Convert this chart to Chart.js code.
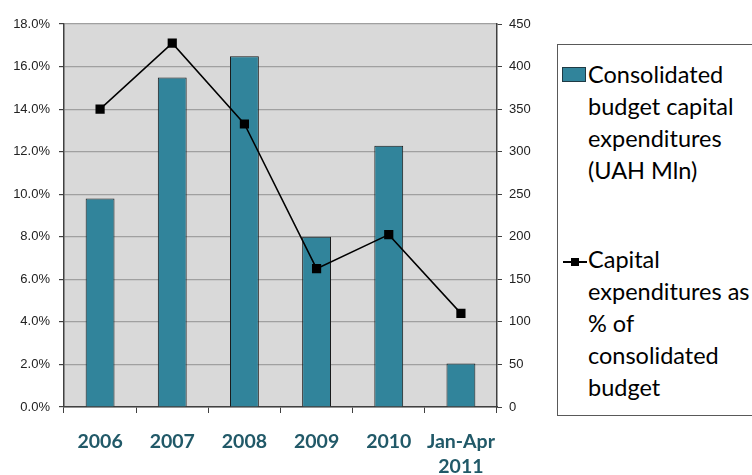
<!DOCTYPE html>
<html lang="en">
<head>
<meta charset="UTF-8" />
<title>Capital expenditures</title>
<style>
  html, body {
    margin: 0;
    padding: 0;
    background: #ffffff;
    overflow: hidden;
  }
  #wrap {
    position: relative;
    width: 752px;
    height: 475px;
    overflow: hidden;
  }
  #chart {
    position: absolute;
    left: 0;
    top: 0;
  }
  #legend {
    position: absolute;
    left: 557px;
    top: 44px;
    width: 240px;
    height: 370px;
    border: 1px solid #595959;
    background: #ffffff;
    font-family: Lato, "Open Sans", sans-serif;
    font-size: 23.5px;
    color: #000;
  }
  .entry {
    position: absolute;
    left: 30px;
    line-height: 32px;
    white-space: nowrap;
  }
  .swatch {
    position: absolute;
    left: 4px;
    width: 22px;
    height: 13px;
    background: #31849b;
    border: 1px solid #1f3a44;
  }
  .line-key {
    position: absolute;
    left: 5px;
    width: 24px;
    height: 2px;
    background: #000;
  }
  .line-key::after {
    content: "";
    position: absolute;
    left: 8px;
    top: -3px;
    width: 8px;
    height: 8px;
    background: #000;
  }
</style>
</head>
<body>
<div id="wrap">
  <canvas id="chart" width="752" height="475"></canvas>
  <div id="legend">
    <div class="swatch" style="top:22px"></div>
    <div class="entry" style="top:13px">Consolidated<br>budget capital<br>expenditures<br>(UAH Mln)</div>
    <div class="line-key" style="top:216px"></div>
    <div class="entry" style="top:198px">Capital<br>expenditures as<br>% of<br>consolidated<br>budget</div>
  </div>
</div>

<script src="https://cdn.jsdelivr.net/npm/chart.js"></script>
<script>
  // Periods, spending in UAH mln (bars) and share of the budget in % (line)
  const categories = ['2006', '2007', '2008', '2009', '2010', ['Jan-Apr', '2011']];
  const capexMln = [245, 387, 412, 200, 307, 51];
  const capexShare = [14.0, 17.1, 13.3, 6.5, 8.1, 4.4];

  const pctTicks = [0, 2, 4, 6, 8, 10, 12, 14, 16, 18];
  const mlnTicks = [0, 50, 100, 150, 200, 250, 300, 350, 400, 450];

  const axisDark = '#404040';
  const tickFont = { family: '"Liberation Sans", Arial, sans-serif', size: 13 };

  // grey fill behind the plot
  const plotBackground = {
    id: 'plotBackground',
    beforeDraw(chart) {
      const { ctx, chartArea: a } = chart;
      ctx.save();
      ctx.fillStyle = '#d9d9d9';
      ctx.fillRect(a.left, a.top, a.right - a.left, a.bottom - a.top);
      ctx.restore();
    }
  };

  new Chart(document.getElementById('chart'), {
    data: {
      labels: categories,
      datasets: [
        {
          type: 'line',
          label: 'Capital expenditures as % of consolidated budget',
          data: capexShare,
          yAxisID: 'y',
          borderColor: '#000',
          borderWidth: 1.5,
          pointStyle: 'rect',
          pointRadius: 6.5,
          pointBackgroundColor: '#000',
          pointBorderColor: '#000',
          pointBorderWidth: 0,
          tension: 0,
          order: 0
        },
        {
          type: 'bar',
          label: 'Consolidated budget capital expenditures (UAH Mln)',
          data: capexMln,
          yAxisID: 'y1',
          backgroundColor: '#31849b',
          borderColor: '#1a1a1a',
          borderWidth: 1,
          barPercentage: 0.4,
          categoryPercentage: 1,
          order: 1
        }
      ]
    },
    options: {
      responsive: false,
      animation: false,
      layout: { padding: { top: 24, left: 0, right: 0, bottom: 0 } },
      plugins: {
        legend: { display: false },
        tooltip: { enabled: false }
      },
      scales: {
        x: {
          offset: true,
          grid: {
            drawOnChartArea: false,
            tickLength: 6,
            tickColor: axisDark,
            offset: true
          },
          border: { color: axisDark, width: 1.5 },
          ticks: {
            color: '#215968',
            padding: 16,
            maxRotation: 0,
            font: { family: 'Lato, "Open Sans", sans-serif', size: 19.5, weight: 'bold', lineHeight: 1.3 }
          },
          afterFit(scale) { scale.height = 68; }
        },
        y: {
          position: 'left',
          min: 0,
          max: 18,
          afterBuildTicks(scale) { scale.ticks = pctTicks.map(v => ({ value: v })); },
          grid: {
            color: '#a0a0a0',
            lineWidth: 1.2,
            tickLength: 5,
            tickColor: axisDark
          },
          border: { color: axisDark, width: 1.5 },
          ticks: {
            color: '#222',
            padding: 9,
            font: tickFont,
            callback: v => v.toFixed(1) + '%'
          },
          afterFit(scale) { scale.width = 64; }
        },
        y1: {
          position: 'right',
          min: 0,
          max: 450,
          afterBuildTicks(scale) { scale.ticks = mlnTicks.map(v => ({ value: v })); },
          grid: {
            drawOnChartArea: false,
            tickLength: 5,
            tickColor: axisDark
          },
          border: { color: axisDark, width: 1.5 },
          ticks: {
            color: '#222',
            padding: 7,
            font: tickFont
          },
          afterFit(scale) { scale.width = 255; }
        }
      }
    },
    plugins: [plotBackground]
  });
</script>
</body>
</html>
